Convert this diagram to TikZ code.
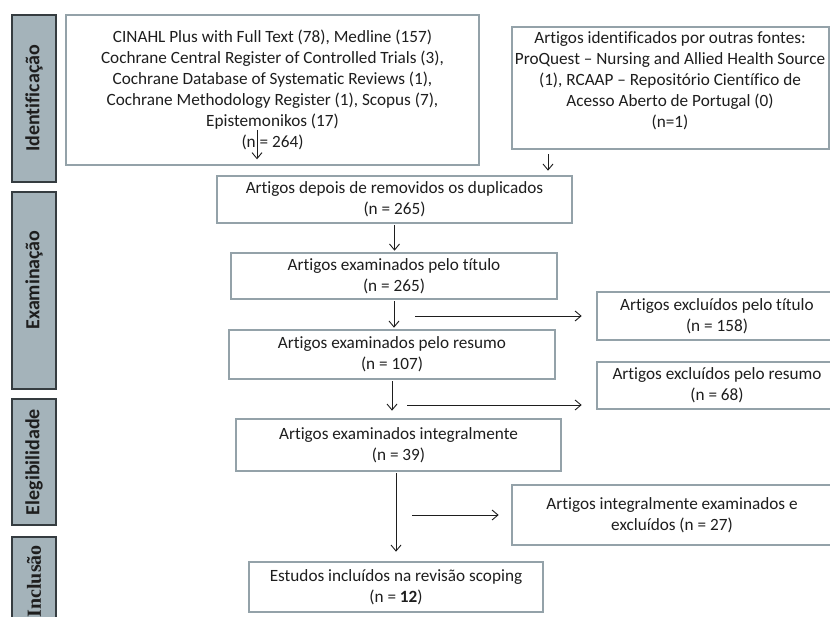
\documentclass[tikz,border=0pt]{standalone}
\usepackage{fontspec}
\setmainfont[Ligatures=NoCommon]{Carlito}
\newfontfamily\barserif{Liberation Serif}
\usetikzlibrary{arrows.meta,calc}
\definecolor{boxline}{HTML}{94A2A9}
\definecolor{barfill}{HTML}{A4B3BA}
\definecolor{barline}{HTML}{353C40}
\definecolor{ink}{HTML}{1E1E1E}
\begin{document}
\begin{tikzpicture}[x=1pt,y=-1pt,
  flowbox/.style={draw=boxline, line width=2.6pt, fill=white, align=center,
    inner sep=0pt, text=ink, font=\fontsize{17.2}{21}\selectfont},
  bar/.style={draw=barline, line width=1.2pt, fill=barfill},
  barlabel/.style={rotate=90, text=ink, inner sep=0pt,
    font=\fontsize{20}{24}\selectfont\bfseries},
  arr/.style={-{Straight Barb[length=6pt,width=10pt]}, line width=0.9pt, draw=ink}]

\useasboundingbox (0,0) rectangle (830,617);
\clip (0,0) rectangle (830,617);

% phase bars on the left
\path[bar] (12,15) rectangle (56,182);
\path[bar] (12,192) rectangle (56,389);
\path[bar] (12,399) rectangle (56,525);
\path[bar] (12,537) rectangle (56,660);
\node[barlabel] (lid) at (34,98.5) {Identificação};
\node[barlabel] (lex) at (34,280) {Examinação};
\node[barlabel] (lel) at (34,462) {Elegibilidade};
\node[barlabel, anchor=east, font=\fontsize{20}{24}\selectfont\barserif\bfseries] (lin) at (34,545) {Inclusão};

% identification boxes
\node[flowbox, minimum width=413pt, minimum height=150pt] (src) at (272.5,90)
  {CINAHL Plus with Full Text (78), Medline (157)\\
   Cochrane Central Register of Controlled Trials (3),\\
   Cochrane Database of Systematic Reviews (1),\\
   Cochrane Methodology Register (1), Scopus (7),\\
   Epistemonikos (17)\\
   (n = 264)};
\node[flowbox, minimum width=317pt, minimum height=122pt] (other) at (670.5,88) {};
\node[align=center, inner sep=0pt, text=ink, font=\fontsize{17.2}{21}\selectfont] (othertxt) at (670,81)
  {Artigos identificados por outras fontes:\\
   ProQuest – Nursing and Allied Health Source\\
   (1), RCAAP – Repositório Científico de\\
   Acesso Aberto de Portugal (0)\\
   (n=1)};

% screening
\node[flowbox, minimum width=355pt, minimum height=47pt] (dup) at (394.5,199.5)
  {Artigos depois de removidos os duplicados\\ (n = 265)};
\node[flowbox, minimum width=326pt, minimum height=46pt] (titulo) at (394,276)
  {Artigos examinados pelo título\\ (n = 265)};
\node[flowbox, minimum width=326pt, minimum height=49pt] (resumo) at (392,354.5)
  {Artigos examinados pelo resumo\\ (n = 107)};
\node[flowbox, minimum width=240pt, minimum height=48pt] (exTit) at (717,316)
  {Artigos excluídos pelo título\\ (n = 158)};
\node[flowbox, minimum width=240pt, minimum height=47pt] (exRes) at (717,385.5)
  {Artigos excluídos pelo resumo\\ (n = 68)};

% eligibility and inclusion
\node[flowbox, minimum width=325pt, minimum height=52pt] (integ) at (398.5,445)
  {Artigos examinados integralmente\\ (n = 39)};
\node[flowbox, minimum width=320pt, minimum height=60pt] (ex27) at (672,515)
  {Artigos integralmente examinados e\\ excluídos (n = 27)};
\node[flowbox, minimum width=294pt, minimum height=50pt] (incl) at (396,587)
  {Estudos incluídos na revisão scoping\\ (n = \textbf{12})};

% connectors
\coordinate (a1s) at (257,130);
\coordinate (a2x) at (548,0);
\coordinate (h1s) at (415,316);
\coordinate (h2s) at (407,405);
\coordinate (h3s) at (412,515);

\draw[arr, shorten >=7pt] (a1s) -- (a1s |- src.south);
\draw[arr, shorten <=4pt, shorten >=4pt] (other.south -| a2x) -- (dup.north -| a2x);
\draw[arr, shorten <=1pt, shorten >=1pt] (dup.south) -- (dup.south |- titulo.north);
\draw[arr, shorten <=1pt, shorten >=1pt] (titulo.south) -- (titulo.south |- resumo.north);
\draw[arr, shorten <=1pt, shorten >=7pt] (resumo.south) -- (resumo.south |- integ.north);
\draw[arr, shorten <=1pt, shorten >=9pt] (integ.south -| incl.north) -- (incl.north);
\draw[arr, shorten >=14pt] (h1s) -- (h1s -| exTit.west);
\draw[arr, shorten >=14pt] (h2s) -- (h2s -| exRes.west);
\draw[arr, shorten >=12pt] (h3s) -- (ex27.west);
\end{tikzpicture}
\end{document}
